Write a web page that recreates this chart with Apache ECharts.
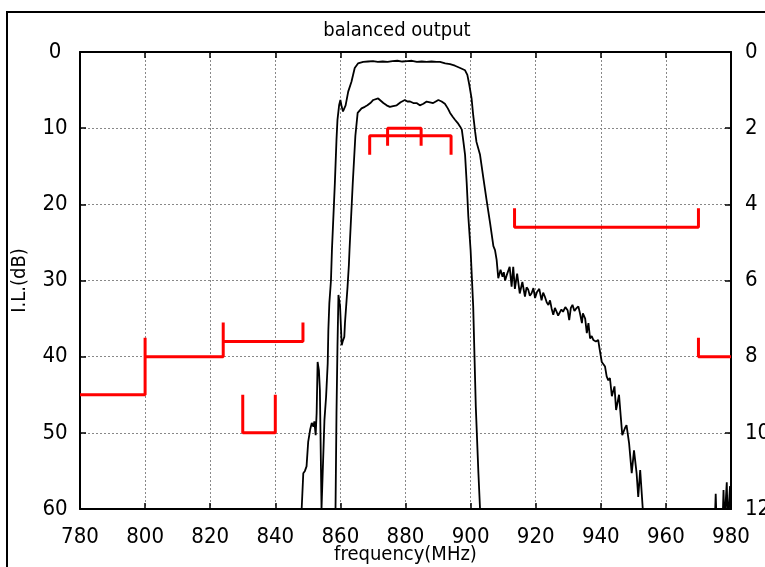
<!DOCTYPE html>
<html><head><meta charset="utf-8">
<script src="https://cdn.jsdelivr.net/npm/echarts@6/dist/echarts.min.js"></script>
<style>html,body{margin:0;padding:0;background:#fff;overflow:hidden}#c{position:absolute;left:0;top:0;width:765px;height:567px}</style>
</head><body><div id="c"></div>
<script>
const titleText = 'balanced output';
const xName = 'frequency(MHz)';
const yName = 'I.L.(dB)';
const xMin = 780, xMax = 980, xStep = 20;
const yLeftMax = 60, yLeftStep = 10;
const yRightMax = 12, yRightStep = 2;

// wide response (upper curve) [MHz, dB]
const wideCurve = [
[848.1,60],[848.6,55.3],[849.1,55.0],[849.6,54.4],[850.1,51.2],[850.7,49.6],[851.2,48.7],[851.7,49.2],[852.0,48.5],[852.4,50.3],[852.7,47.4],[853.0,40.7],[853.4,41.8],[853.7,44.4],[854.2,60],[854.5,60],[855.1,48.3],[855.6,45.3],[856.1,40.9],[856.3,36.5],[856.6,33.0],[857.1,30.0],[857.4,26.0],[858.3,17.2],[858.8,11.5],[859.1,8.9],[859.6,7.0],[860.0,6.3],[860.4,7.2],[860.8,7.8],[861.6,7.0],[862.4,5.2],[863.4,3.9],[864.4,2.1],[865.4,1.5],[867.0,1.3],[868.5,1.25],[870,1.2],[871.5,1.3],[873,1.25],[874.5,1.3],[876,1.2],[877.5,1.15],[879,1.25],[880.5,1.2],[882,1.15],[883.5,1.3],[885,1.25],[886.5,1.3],[888,1.25],[889.5,1.3],[890.6,1.3],[892.2,1.5],[893.7,1.6],[895.2,1.8],[896.8,2.1],[898.3,2.4],[899.0,3.0],[899.6,4.3],[900.3,6.1],[900.8,8.3],[901.4,10.5],[901.8,11.8],[902.9,13.5],[903.9,16.5],[904.9,19.4],[906.0,22.5],[907.0,25.5],[907.5,26],[908.0,27.3],[908.5,29.7],[909.2,28.6],[909.8,29.5],[910.2,28.9],[910.6,30.0],[911.1,29.3],[911.6,29.1],[912.0,28.2],[912.6,30.8],[913.1,28.2],[913.6,31.1],[914.3,29.1],[915.1,31.7],[915.9,30.2],[916.7,32.1],[917.2,30.9],[917.7,31.2],[918.2,32.0],[918.7,31.7],[919.3,31.0],[919.8,32.3],[920.4,31.5],[921.1,31.1],[921.8,32.6],[922.3,31.6],[922.8,32.1],[923.4,32.9],[923.9,33.2],[924.4,32.6],[924.9,33.7],[925.4,34.5],[925.9,33.6],[926.4,34.1],[926.9,34.6],[927.4,34.5],[927.9,33.8],[928.4,34.1],[929.1,33.5],[929.8,33.9],[930.3,35.2],[930.8,33.6],[931.3,33.2],[931.9,34.0],[932.4,33.7],[933.1,33.4],[933.6,34.3],[934.2,35.6],[934.5,34.3],[935.2,35.0],[935.7,36.9],[936.2,35.6],[936.7,37.6],[937.2,37.3],[937.7,37.8],[938.5,38.0],[939.2,37.8],[939.6,38.9],[940.3,40.7],[941.3,41.3],[941.8,42.6],[942.3,43.1],[942.8,42.8],[943.4,45.2],[944.2,43.9],[944.7,47.0],[945.6,45.0],[946.1,47.7],[946.6,50.3],[947.4,49.4],[947.9,49.0],[948.7,51.4],[949.5,55.3],[950.2,52.3],[951.0,55.3],[951.5,58.4],[952.1,54.9],[952.9,60],[953.5,62],[975.0,62],[975.3,58],[975.6,62],[977.4,62],[977.7,57.5],[978.0,62],[978.5,62],[978.7,56.5],[979.0,62],[979.5,62],[979.7,57],[980,62]
];

// passband response (lower curve) [MHz, dB]
const passCurve = [
[858.5,60],[858.8,47.4],[859.1,38.7],[859.4,31.9],[859.9,33.4],[860.4,38.5],[860.7,38.0],[861.2,37.4],[861.4,35.6],[861.9,32.6],[862.2,30.8],[862.6,28.0],[862.8,26.0],[863.8,17.2],[864.6,11.0],[865.3,8.0],[866.5,7.4],[867.5,7.2],[868.3,7.0],[869.2,6.7],[870.1,6.3],[871.6,6.1],[872.4,6.4],[873.2,6.7],[874.2,7.0],[875.2,7.2],[876.2,7.1],[877.3,7.0],[878.5,6.6],[879.8,6.3],[880.6,6.5],[881.4,6.5],[882.4,6.7],[883.4,6.7],[884.4,7.0],[885.5,6.8],[886.5,6.5],[887.5,6.6],[888.5,6.7],[889.3,6.5],[890.1,6.3],[891.1,6.5],[892.1,6.8],[893.0,7.4],[893.7,8.0],[894.5,8.5],[895.2,8.9],[896.0,9.3],[896.8,9.8],[897.3,10.2],[897.8,11.8],[898.3,13.5],[898.8,17.2],[899.3,21.6],[900.0,26.0],[900.8,33.4],[901.6,46.6],[902.4,55.3],[902.9,60],[903.2,62]
];

// specification mask segments [MHz, dB]
const maskA = [[780,45],[800,45],[800,37.5]];
const maskB = [[800,40],[824,40],[824,35.5]];
const maskC = [[824,38],[848.5,38],[848.5,35.5]];
const maskNotch = [[830,45],[830,50],[840,50],[840,45]];
const maskPassOuter = [[869,13.5],[869,11],[894,11],[894,13.5]];
const maskPassInner = [[874.5,12.3],[874.5,10],[884.8,10],[884.8,12.3]];
const maskHigh = [[913.5,20.5],[913.5,23],[970,23],[970,20.5]];
const maskEdge = [[970,37.5],[970,40],[980,40]];
const maskSegments = [maskA, maskB, maskC, maskNotch, maskPassOuter, maskPassInner, maskHigh, maskEdge];

const FONT = "'Liberation Sans Narrow','DejaVu Sans Condensed','Liberation Sans',sans-serif";
const chart = echarts.init(document.getElementById('c'), null, {renderer:'canvas', width:765, height:567});

const lineSeries = (data, color, width) => ({
  type:'line', data, showSymbol:false, symbol:'none', clip:true,
  lineStyle:{color, width}, animation:false, silent:true, z: color === '#ff0000' ? 3 : 4
});

const series = [
  lineSeries(wideCurve, '#000', 1.8),
  lineSeries(passCurve, '#000', 1.8)
].concat(maskSegments.map(m => lineSeries(m, '#ff0000', 3)));

const gridLine = {show:true, lineStyle:{color:'#888', type:[2,2], width:1}};
chart.setOption({
  animation:false,
  backgroundColor:'#fff',
  title:{text:titleText, left:392, top:16, textAlign:'center',
    textStyle:{fontFamily:FONT, fontSize:20, fontWeight:'normal', color:'#000'}},
  graphic:[{type:'rect', shape:{x:7, y:12, width:800, height:600},
    style:{fill:'none', stroke:'#000', lineWidth:2}, silent:true}],
  grid:{left:80, right:34, top:52, bottom:58, show:false, containLabel:false, outerBoundsMode:'none'},
  xAxis:[
    {type:'value', min:xMin, max:xMax, interval:xStep, position:'bottom',
     name:xName, nameLocation:'middle', nameGap:36, nameMoveOverlap:false,
     nameTextStyle:{fontFamily:FONT, fontSize:20, color:'#000'},
     axisLine:{show:true, onZero:false, lineStyle:{color:'#000', width:2}},
     axisTick:{show:true, inside:true, length:6, lineStyle:{color:'#000', width:1.5}},
     axisLabel:{margin:17, fontFamily:FONT, fontSize:22, color:'#000'},
     splitLine:gridLine},
    {type:'value', min:xMin, max:xMax, interval:xStep, position:'top',
     axisLine:{show:true, onZero:false, lineStyle:{color:'#000', width:2}},
     axisTick:{show:true, inside:true, length:6, lineStyle:{color:'#000', width:1.5}},
     axisLabel:{show:false}, splitLine:{show:false}}
  ],
  yAxis:[
    {type:'value', min:0, max:yLeftMax, interval:yLeftStep, inverse:true, position:'left',
     name:yName, nameLocation:'middle', nameGap:50, nameRotate:90, nameMoveOverlap:false,
     nameTextStyle:{fontFamily:FONT, fontSize:20, color:'#000'},
     axisLine:{show:true, onZero:false, lineStyle:{color:'#000', width:2}},
     axisTick:{show:true, inside:true, length:6, lineStyle:{color:'#000', width:1.5}},
     axisLabel:{margin:25, align:'center', fontFamily:FONT, fontSize:22, color:'#000'},
     splitLine:gridLine},
    {type:'value', min:0, max:yRightMax, interval:yRightStep, inverse:true, position:'right',
     axisLine:{show:true, onZero:false, lineStyle:{color:'#000', width:2}},
     axisTick:{show:true, inside:true, length:6, lineStyle:{color:'#000', width:1.5}},
     axisLabel:{margin:14, fontFamily:FONT, fontSize:22, color:'#000'},
     splitLine:{show:false}}
  ],
  series
});
</script></body></html>
